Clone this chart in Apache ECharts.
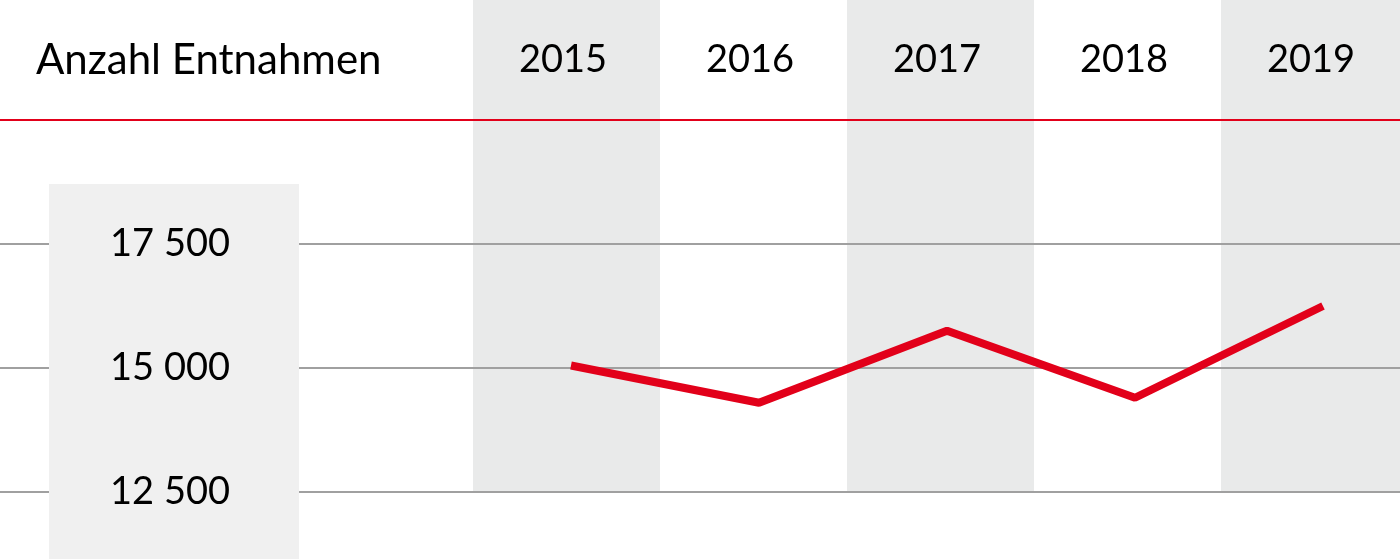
<!DOCTYPE html>
<html>
<head>
<meta charset="utf-8">
<script src="https://cdn.jsdelivr.net/npm/echarts@6/dist/echarts.min.js"></script>
<style>
html,body{margin:0;padding:0;background:#fff;}
#c{width:1400px;height:559px;}
</style>
</head>
<body>
<div id="c"></div>
<script>
const titleText = 'Anzahl Entnahmen';
const years = ['2015', '2016', '2017', '2018', '2019'];
const entnahmen = [15050, 14300, 15750, 14400, 16250];
const yMin = 12500;
const yMax = 20000;
const yStep = 2500;

const FONT = 'Lato';
const fmt = v => String(v).replace(/\B(?=(\d{3})+(?!\d))/g, ' ');

const chart = echarts.init(document.getElementById('c'), null, {renderer: 'canvas'});
chart.setOption({
  backgroundColor: '#ffffff',
  animation: false,
  title: {
    text: titleText, left: 36, top: 39, padding: 0,
    textStyle: {fontFamily: FONT, fontSize: 42, fontWeight: 'normal', color: '#000'}
  },
  grid: [
    {left: 473, width: 935, top: 0, bottom: 67, outerBoundsMode: 'none', containLabel: false},
    {left: 0, right: 0, top: 120, bottom: 67, outerBoundsMode: 'none', containLabel: false},
    {left: 477, width: 940, top: 120, bottom: 67, outerBoundsMode: 'none', containLabel: false}
  ],
  xAxis: [
    {
      type: 'category', gridIndex: 0, data: years, position: 'top', z: 0,
      axisLine: {show: false}, axisTick: {show: false},
      axisLabel: {inside: true, margin: 60, verticalAlign: 'middle', padding: [0, 7, 0, 0],
        fontFamily: FONT, fontSize: 38, color: '#000'},
      splitArea: {show: true, areaStyle: {color: ['#e9eaea', '#ffffff']}},
      splitLine: {show: false}
    },
    {type: 'value', gridIndex: 1, show: false, min: 0, max: 1},
    {type: 'category', gridIndex: 2, data: years, show: false}
  ],
  yAxis: [
    {type: 'value', gridIndex: 0, show: false, min: 0, max: 1, splitLine: {show: false}},
    {
      type: 'value', gridIndex: 1, position: 'left', min: yMin, max: yMax, interval: yStep, z: 1,
      axisLine: {show: false}, axisTick: {show: false}, axisLabel: {show: false},
      splitLine: {show: true, lineStyle: {color: ['#a0a0a0', '#a0a0a0', '#a0a0a0', '#e2001a'], width: 2}}
    },
    {
      type: 'value', gridIndex: 1, position: 'left', offset: 0, min: yMin, max: yMax, interval: yStep, z: 3,
      axisLine: {show: false}, axisTick: {show: false}, splitLine: {show: false},
      axisLabel: {inside: true, margin: 230, align: 'right', showMaxLabel: false,
        fontFamily: FONT, fontSize: 38, color: '#000', formatter: v => fmt(v)}
    },
    {type: 'value', gridIndex: 2, min: yMin, max: yMax, interval: yStep, show: false, splitLine: {show: false}}
  ],
  graphic: [
    {type: 'rect', z: 2, shape: {x: 49, y: 184, width: 250, height: 380}, style: {fill: '#f0f0f0'}}
  ],
  series: [
    {
      type: 'line', xAxisIndex: 2, yAxisIndex: 3, data: entnahmen, z: 4,
      symbol: 'none', lineStyle: {color: '#e2001a', width: 8}, color: '#e2001a'
    }
  ]
});
</script>
</body>
</html>
